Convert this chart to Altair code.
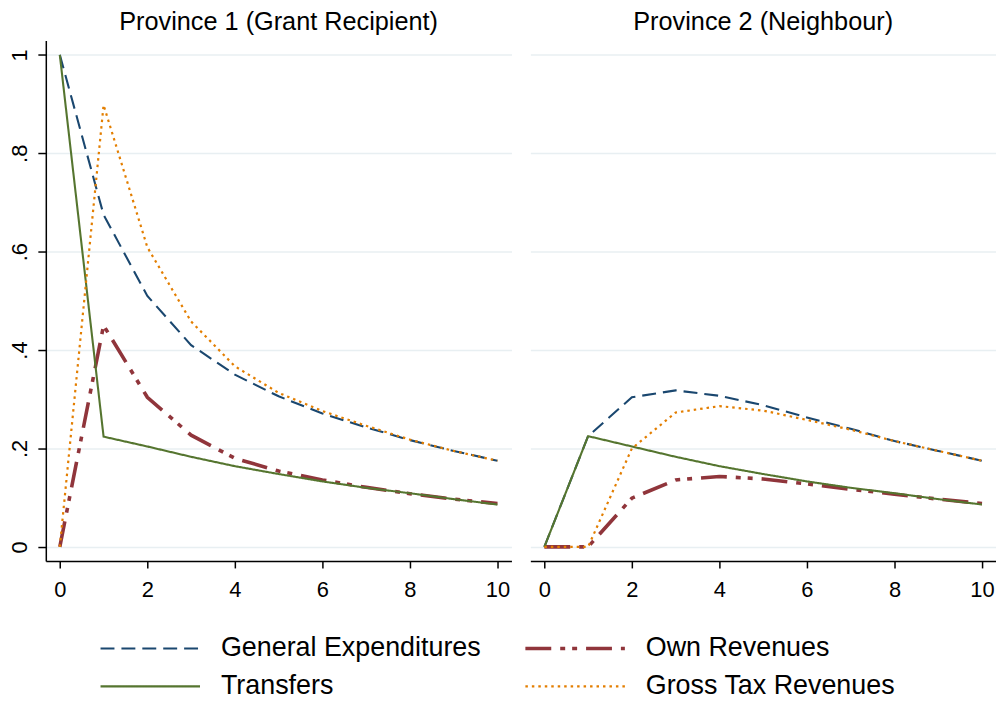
import altair as alt
import pandas as pd

years = list(range(11))
series_names = ["General Expenditures", "Own Revenues", "Transfers", "Gross Tax Revenues"]
provinces = ["Province 1 (Grant Recipient)", "Province 2 (Neighbour)"]

p1_general_exp = [1.0, 0.675, 0.51, 0.41, 0.35, 0.306, 0.271, 0.243, 0.217, 0.195, 0.175]
p1_own_rev = [0.0, 0.45, 0.304, 0.227, 0.18, 0.154, 0.136, 0.121, 0.108, 0.097, 0.088]
p1_transfers = [1.0, 0.224, 0.204, 0.183, 0.164, 0.148, 0.133, 0.12, 0.109, 0.097, 0.086]
p1_gross_tax = [0.0, 0.898, 0.609, 0.458, 0.367, 0.313, 0.276, 0.246, 0.218, 0.195, 0.175]

p2_general_exp = [0.0, 0.225, 0.304, 0.318, 0.307, 0.288, 0.263, 0.24, 0.215, 0.195, 0.175]
p2_own_rev = [0.0, 0.0, 0.099, 0.136, 0.143, 0.138, 0.128, 0.117, 0.107, 0.097, 0.088]
p2_transfers = [0.0, 0.225, 0.204, 0.183, 0.164, 0.148, 0.133, 0.12, 0.109, 0.097, 0.086]
p2_gross_tax = [0.0, 0.0, 0.2, 0.273, 0.286, 0.277, 0.258, 0.238, 0.215, 0.195, 0.175]

y_ticks = [0, 0.2, 0.4, 0.6, 0.8, 1.0]
x_ticks = [0, 2, 4, 6, 8, 10]

panel_data = {
    provinces[0]: [p1_general_exp, p1_own_rev, p1_transfers, p1_gross_tax],
    provinces[1]: [p2_general_exp, p2_own_rev, p2_transfers, p2_gross_tax],
}

rows = []
for prov, series_list in panel_data.items():
    for name, vals in zip(series_names, series_list):
        for yr, v in zip(years, vals):
            rows.append({"province": prov, "series": name, "year": yr, "value": v})
df = pd.DataFrame(rows)

colors = ["#1a476f", "#90353b", "#55752f", "#e37e00"]
dashes = [[14, 7], [26, 9, 5, 7, 5, 9], [1, 0], [2.5, 4]]
widths = [2.1, 3.6, 2.1, 2.2]

FONT = "Liberation Sans"

legend = alt.Legend(
    title=None,
    orient="none",
    legendX=53,
    legendY=594,
    direction="horizontal",
    columns=2,
    symbolType="stroke",
    symbolSize=10000,
    clipHeight=34,
    labelFontSize=27,
    labelFont=FONT,
    labelColor="black",
    labelLimit=0,
    labelOffset=19,
    columnPadding=42,
    rowPadding=4,
)

label_expr = "datum.value == 0 ? '0' : datum.value == 1 ? '1' : replace(format(datum.value, '.1f'), '0.', '.')"


def panel(prov, show_y):
    if show_y:
        yaxis = alt.Axis(values=y_ticks, labelExpr=label_expr, labelAngle=-90,
                         labelAlign="center", labelBaseline="bottom", labelPadding=6,
                         tickSize=8, grid=True, title=None)
    else:
        yaxis = alt.Axis(values=y_ticks, labels=False, ticks=False, domain=False,
                         grid=True, title=None)
    return (
        alt.Chart(df[df.province == prov])
        .mark_line()
        .encode(
            x=alt.X("year:Q", scale=alt.Scale(domain=[-0.32, 10.32], nice=False, zero=False),
                    axis=alt.Axis(values=x_ticks, grid=False, tickSize=7, labelPadding=12, title=None)),
            y=alt.Y("value:Q", scale=alt.Scale(domain=[-0.0287, 1.029], nice=False, zero=False),
                    axis=yaxis),
            color=alt.Color("series:N", scale=alt.Scale(domain=series_names, range=colors), legend=legend),
            strokeDash=alt.StrokeDash("series:N", scale=alt.Scale(domain=series_names, range=dashes), legend=legend),
            strokeWidth=alt.StrokeWidth("series:N", scale=alt.Scale(type="ordinal", domain=series_names, range=widths), legend=legend),
        )
        .properties(
            width=468,
            height=523,
            title=alt.TitleParams(prov, fontSize=25.4, font=FONT, fontWeight="normal",
                                  color="black", anchor="middle", offset=5),
        )
    )


chart = (
    alt.hconcat(panel(provinces[0], True), panel(provinces[1], False), spacing=19)
    .properties(padding={"left": 1, "top": 0, "right": 0, "bottom": 0}, background="white")
    .configure_view(stroke=None)
    .configure_axis(
        labelFont=FONT,
        labelFontSize=22,
        labelColor="black",
        domainColor="black",
        domainWidth=1.5,
        tickColor="black",
        tickWidth=1.5,
        gridColor="#e8eff2",
        gridWidth=1.5,
    )
)

chart.save("out.html", embed_options={"renderer": "svg", "actions": False})
